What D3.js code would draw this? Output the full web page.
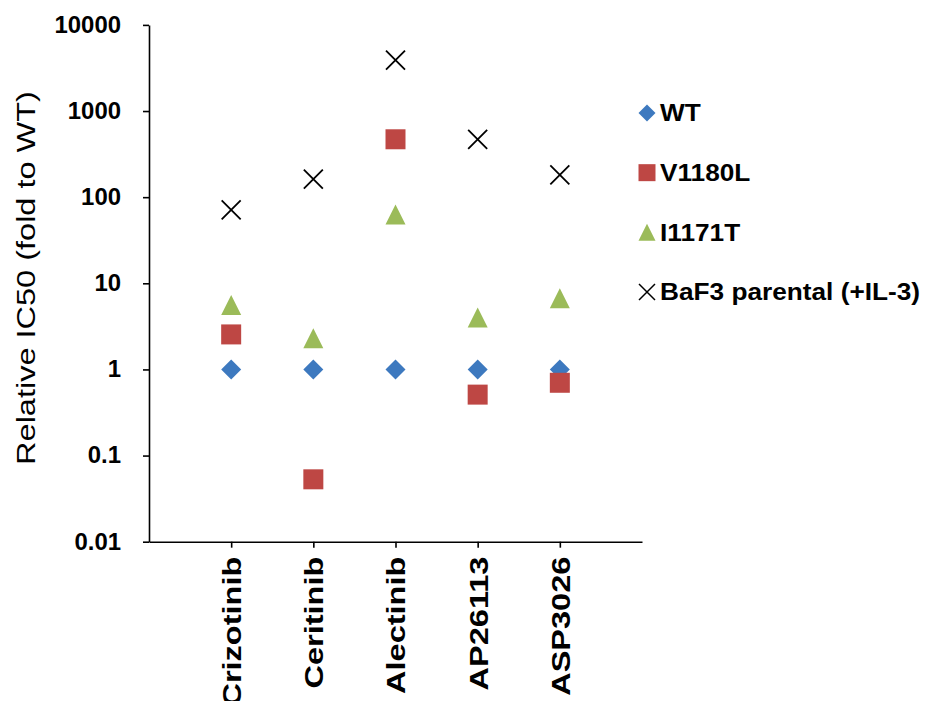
<!DOCTYPE html>
<html>
<head>
<meta charset="utf-8">
<script src="https://cdn.jsdelivr.net/npm/d3@7"></script>
<style>
  html, body { margin: 0; padding: 0; background: #fff; }
  svg { display: block; font-family: "Liberation Sans", Arial, sans-serif; }
</style>
</head>
<body>
<svg id="chart" width="926" height="701"></svg>
<script>
// ---- data ----
const categories = ["Crizotinib", "Ceritinib", "Alectinib", "AP26113", "ASP3026"];
const wt       = [1, 1, 1, 1, 1];
const v1180l   = [2.55, 0.053, 470, 0.51, 0.70];
const i1171t   = [5.6, 2.3, 63, 4.0, 6.7];
const baf3     = [71, 162, 3900, 470, 181];
const seriesNames = ["WT", "V1180L", "I1171T", "BaF3 parental (+IL-3)"];
const yTickValues = [0.01, 0.1, 1, 10, 100, 1000, 10000];
const yTickLabels = ["0.01", "0.1", "1", "10", "100", "1000", "10000"];
const yTitle = "Relative IC50 (fold to WT)";

// ---- custom symbol types (size = full width in px) ----
const diamondType = { draw(ctx, s) { const r = s / 2; ctx.moveTo(0, -r); ctx.lineTo(r, 0); ctx.lineTo(0, r); ctx.lineTo(-r, 0); ctx.closePath(); } };
const squareType  = { draw(ctx, s) { const r = s / 2; ctx.rect(-r, -r, s, s); } };
const triType     = { draw(ctx, s) { const r = s / 2; ctx.moveTo(0, -r); ctx.lineTo(r, r); ctx.lineTo(-r, r); ctx.closePath(); } };
const timesType   = { draw(ctx, s) { const r = s / 2; ctx.moveTo(-r, -r); ctx.lineTo(r, r); ctx.moveTo(-r, r); ctx.lineTo(r, -r); } };

const series = [
  { name: seriesNames[0], values: wt,     type: diamondType, fill: "#3D79BF", stroke: "none" },
  { name: seriesNames[1], values: v1180l, type: squareType,  fill: "#BE4744", stroke: "none" },
  { name: seriesNames[2], values: i1171t, type: triType,     fill: "#9BBB59", stroke: "none" },
  { name: seriesNames[3], values: baf3,   type: timesType,   fill: "none",    stroke: "#000" }
];

const svg = d3.select("#chart");

const x = d3.scaleLinear().domain([0, categories.length + 1]).range([149, 642]);
const y = d3.scaleLog().domain([0.01, 10000]).range([541.7, 24.9]);

function stretch(sel, factor) {
  sel.each(function () {
    const len = this.getComputedTextLength();
    d3.select(this).attr("textLength", len * factor).attr("lengthAdjust", "spacingAndGlyphs");
  });
}

// y axis
const yAxis = svg.append("g")
  .attr("transform", `translate(${x(0)},0)`)
  .call(d3.axisLeft(y).tickValues(yTickValues)
    .tickFormat((d, i) => yTickLabels[i]).tickSize(6).tickPadding(22).tickSizeOuter(0));
yAxis.select(".domain").attr("stroke", "#000").attr("stroke-width", 1.6);
yAxis.selectAll(".tick line").attr("stroke", "#000").attr("stroke-width", 1.6);
yAxis.selectAll(".tick text")
  .attr("fill", "#000").style("font-size", "23px").style("font-weight", "bold")
  .style("font-family", "'Liberation Sans', Arial, sans-serif");
stretch(yAxis.selectAll(".tick text"), 1.04);

// x axis
const xAxis = svg.append("g")
  .attr("transform", `translate(0,${y(0.01)})`)
  .call(d3.axisBottom(x).tickValues(categories.map((c, i) => i + 1))
    .tickFormat((d, i) => categories[i]).tickSize(6).tickSizeOuter(0));
xAxis.select(".domain").attr("stroke", "#000").attr("stroke-width", 1.6);
xAxis.selectAll(".tick line").attr("stroke", "#000").attr("stroke-width", 1.6);
xAxis.selectAll(".tick text")
  .attr("fill", "#000")
  .attr("transform", "rotate(-90)")
  .attr("x", -15).attr("y", 0).attr("dy", "0.36em")
  .style("text-anchor", "end")
  .style("font-size", "26px").style("font-weight", "bold")
  .style("font-family", "'Liberation Sans', Arial, sans-serif");
stretch(xAxis.selectAll(".tick text"), 1.25);

// y title
const yt = svg.append("text")
  .attr("transform", "translate(26,278) rotate(-90)")
  .attr("text-anchor", "middle").attr("dy", "0.36em")
  .style("font-size", "26px").attr("fill", "#000")
  .text(yTitle);
stretch(yt, 1.25);

// markers
const sym = d3.symbol();
series.forEach(s => {
  svg.append("g").selectAll("path")
    .data(s.values)
    .join("path")
    .attr("transform", (d, i) => `translate(${x(i + 1)},${y(d)})`)
    .attr("d", sym.type(s.type).size(s.type === timesType ? 19 : 20)())
    .attr("fill", s.fill)
    .attr("stroke", s.stroke)
    .attr("stroke-width", s.type === timesType ? 1.8 : 0);
});

// legend
const legendY = d3.scaleLinear().domain([0, 3]).range([113, 292]);
const leg = svg.append("g");
series.forEach((s, i) => {
  const g = leg.append("g").attr("transform", `translate(647,${legendY(i)})`);
  g.append("path")
    .attr("d", d3.symbol().type(s.type).size(s.type === timesType ? 16 : 17)())
    .attr("fill", s.fill).attr("stroke", s.stroke)
    .attr("stroke-width", s.type === timesType ? 1.5 : 0);
  const t = g.append("text")
    .attr("x", 13).attr("dy", "0.36em")
    .style("font-size", "23px").style("font-weight", "bold")
    .attr("fill", "#000")
    .text(s.name);
  stretch(t, 1.14);
});
</script>
</body>
</html>
